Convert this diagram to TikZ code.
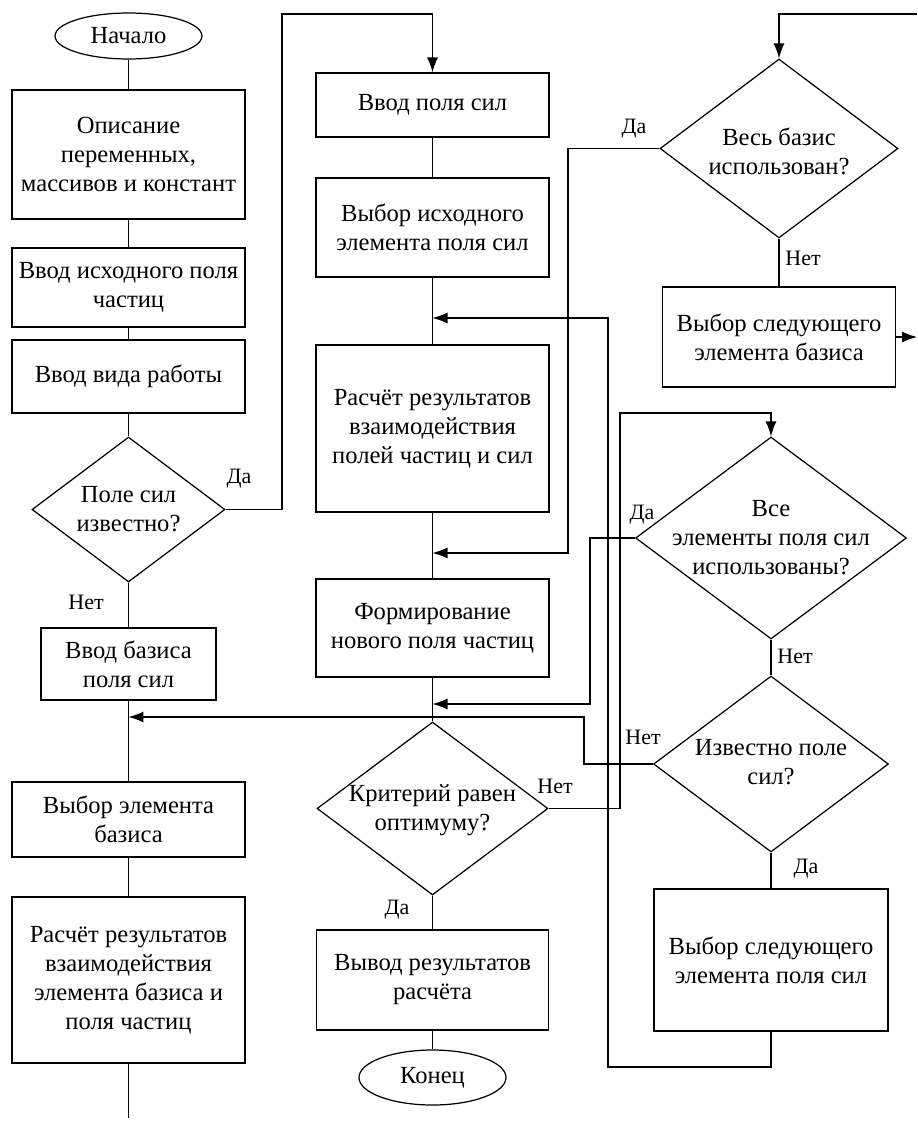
\documentclass[tikz,border=0pt]{standalone}
\usepackage{fontspec}
\setmainfont{Liberation Serif}
\usetikzlibrary{shapes.geometric, arrows.meta}

\tikzset{
  block/.style = {draw, rectangle, align=center, inner sep=0pt, minimum width=4.66cm},
  term/.style = {draw, ellipse, inner sep=0pt, minimum width=2.94cm},
  decision/.style = {draw, diamond, inner sep=0pt},
  txt/.style = {align=center, inner sep=0pt},
  lbl/.style = {inner sep=0pt, font=\fontsize{12.5}{15}\selectfont},
  arr/.style = {-{Latex[length=3mm, width=2.2mm]}}
}

\begin{document}
\begin{tikzpicture}[x=0.02cm, y=-0.02cm, line width=0.7pt, font=\fontsize{14}{16.5}\selectfont]
    \useasboundingbox (0,0) rectangle (917,1122);

    % left column
    \node[term, minimum height=0.92cm] at (128.5,36) (start) {Начало};
    \node[block, minimum height=2.58cm] at (128.5,154.5) (descr) {Описание\\переменных,\\массивов и констант};
    \node[block, minimum height=1.58cm] at (128.5,287.5) (inpart) {Ввод исходного поля\\частиц};
    \node[block, minimum height=1.46cm] at (128.5,376.5) (mode) {Ввод вида работы};
    \node[decision, minimum width=3.86cm, minimum height=2.9cm] at (128.5,509.5) (known) {};
    \node[txt] at (known) (known-t) {Поле сил\\известно?};
    \node[block, minimum width=3.5cm, minimum height=1.44cm] at (128.5,664) (basis) {Ввод базиса\\поля сил};
    \node[block, minimum height=1.5cm] at (128.5,819.5) (selbasis) {Выбор элемента\\базиса};
    \node[block, minimum height=3.32cm] at (128.5,980) (calcbasis) {Расчёт результатов\\взаимодействия\\элемента базиса и\\поля частиц};
    \coordinate (tail) at (128.5,1118);

    % middle column
    \node[block, minimum height=1.28cm] at (432.5,105) (force) {Ввод поля сил};
    \node[block, minimum height=1.98cm] at (432.5,227.5) (selforce) {Выбор исходного\\элемента поля сил};
    \node[block, minimum height=3.34cm] at (432.5,428.5) (calcfield) {Расчёт результатов\\взаимодействия\\полей частиц и сил};
    \node[block, minimum height=1.96cm] at (432.5,628) (newfield) {Формирование\\нового поля частиц};
    \node[decision, minimum width=4.62cm, minimum height=3.46cm] at (432.5,808.5) (crit) {};
    \node[txt] at (432.5,810) (crit-t) {Критерий равен\\оптимуму?};
    \node[block, minimum width=4.64cm, minimum height=2cm] at (432.5,980) (output) {Вывод результатов\\расчёта};
    \node[term, minimum height=1.1cm] at (432.5,1077.5) (finish) {Конец};

    % right column
    \node[decision, minimum width=4.76cm, minimum height=3.58cm] at (779,148.5) (allbasis) {};
    \node[txt] at (779,151) (allbasis-t) {Весь базис\\использован?};
    \node[block, minimum height=2cm] at (779,337) (nextbasis) {Выбор следующего\\элемента базиса};
    \node[decision, minimum width=5.42cm, minimum height=4.04cm] at (771,538) (allforce) {};
    \node[txt] at (allforce) (allforce-t) {Все\\элементы поля сил\\использованы?};
    \node[decision, minimum width=4.7cm, minimum height=3.52cm] at (771,764) (knownforce) {};
    \node[txt] at (771,762) (knownforce-t) {Известно поле\\сил?};
    \node[block, minimum width=4.68cm, minimum height=2.84cm] at (771,960) (nextforce) {Выбор следующего\\элемента поля сил};
    \coordinate (topright) at (917,14);
    \coordinate (outright) at (917,337);

    % yes / no
    \node[lbl] at (239,479) (knownyes) {Да};
    \node[lbl] at (86,602) (knownno) {Нет};
    \node[lbl] at (634,129) (allbasisyes) {Да};
    \node[lbl] at (803,258) (allbasisno) {Нет};
    \node[lbl] at (642,515) (allforceyes) {Да};
    \node[lbl] at (795,656) (allforceno) {Нет};
    \node[lbl] at (643,737) (knownforceno) {Нет};
    \node[lbl] at (806,869) (knownforceyes) {Да};
    \node[lbl] at (555,786) (critno) {Нет};
    \node[lbl] at (397,910) (crityes) {Да};

    \draw (start) -- (descr);
    \draw (descr) -- (inpart);
    \draw (inpart) -- (mode);
    \draw (mode) -- (known);
    \draw (known) -- (basis);
    \draw (basis) -- (selbasis);
    \draw (selbasis) -- (calcbasis);
    \draw (calcbasis) -- (tail);

    \draw (force) -- (selforce);
    \draw (selforce) -- (calcfield);
    \draw (calcfield) -- (newfield);
    \draw (newfield) -- (crit);
    \draw (crit) -- (output);
    \draw (output) -- (finish);

    \draw (allbasis) -- (nextbasis);
    \draw (allforce) -- (knownforce);
    \draw (knownforce) -- (nextforce);

    % loops
    \draw[arr] (known.east) -| (282,14) -| (force.north);
    \draw[arr] (allbasis.west) -| (568,553) -- (calcfield.south |- 0,553);
    \draw[arr] (crit.east) -| (620,413) -| (allforce.north);
    \draw[arr] (allforce.west) -| (590,704) -- (newfield.south |- 0,704);
    \draw[arr] (knownforce.west) -| (584,717) -- (basis.south |- 0,717);
    \draw[arr] (nextforce.south) |- (608,1067) |- (selforce.south |- 0,318);
    \draw[arr] (topright) -| (allbasis.north);
    \draw[arr] (nextbasis.east) -- (outright);
\end{tikzpicture}
\end{document}
